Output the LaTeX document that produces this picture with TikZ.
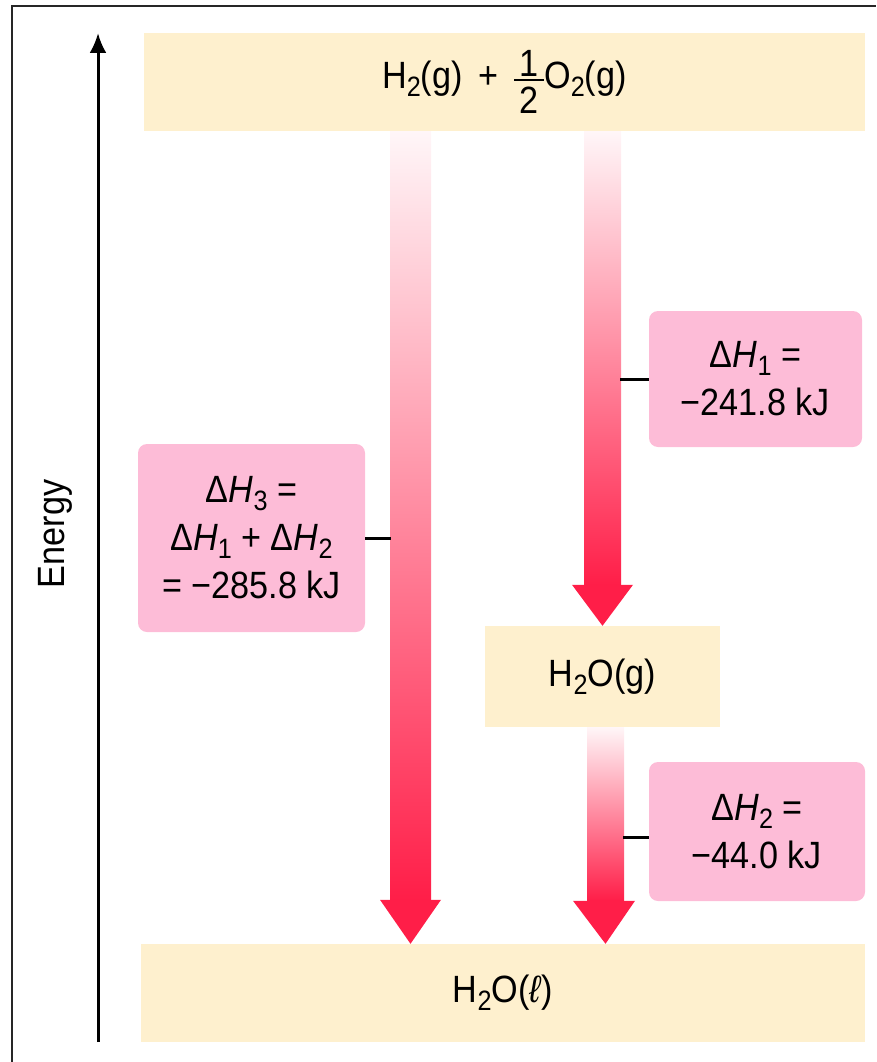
\documentclass[tikz,border=0pt]{standalone}
\usepackage{fontspec}
\setmainfont[FakeStretch=0.9]{Liberation Sans}
\usetikzlibrary{arrows.meta,calc}

\definecolor{levelfill}{RGB}{254,240,206}
\definecolor{notefill}{RGB}{253,188,215}
\definecolor{heatred}{RGB}{255,30,72}
\definecolor{heatpale}{RGB}{255,246,248}

% lowered, slightly reduced subscript
\newcommand\lowsub[1]{\raisebox{-8pt}{\fontsize{28}{28}\selectfont #1}}
% stacked one-half with full-size digits
\newcommand\halffrac{\lower25pt\vbox{\offinterlineskip
  \hbox to 30pt{\hfil 1\hfil}\kern3pt
  \hrule height 2pt width 30pt\kern6pt
  \hbox to 30pt{\hfil 2\hfil}}}

\tikzset{
  level/.style={fill=levelfill, draw=none, inner sep=0pt},
  note/.style={fill=notefill, draw=none, rounded corners=9pt, inner sep=0pt, align=center},
  shaft/.style={top color=heatpale, bottom color=heatred, draw=none},
  tip/.style={fill=heatred, draw=none},
  tick/.style={line width=3pt, black},
  axis/.style={line width=3pt, -{Latex[length=20pt,width=17pt]}},
  frameline/.style={line width=2pt, black!85},
}

\begin{document}
\begin{tikzpicture}[x=1pt, y=-1pt, font=\fontsize{38}{48}\selectfont]
\useasboundingbox (0,0) rectangle (876,1062);

% frame (top and left edges only)
\draw[frameline] (12,1062) -- (12,6) -- (876,6);

% energy levels
\node[level, minimum width=721, minimum height=98] (top) at (504.5,82)
  {H\lowsub{2}(g) \,+\, \halffrac O\lowsub{2}(g)};
\node[level, minimum width=235, minimum height=101] (gas) at (602.5,676.5)
  {H\lowsub{2}O(g)};
\node[level, minimum width=724, minimum height=98] (liq) at (503,993)
  {H\lowsub{2}O(\textit{ℓ})};

% energy axis
\coordinate (e0) at (98,1042);
\coordinate (e1) at (98,33);
\draw[axis] (e0) -- (e1);
\node[rotate=90] (elabel) at (55,534) {Energy};

% arrow centre lines
\coordinate (c3) at (410.5,0);
\coordinate (c1) at (602.5,0);
\coordinate (c2) at (605.5,0);

% overall step: reactants -> liquid water
\shade[shaft] ($(top.south -| c3)+(-20.5,0)$) rectangle ($(liq.north -| c3)+(20.5,-44)$);
\fill[tip] ($(liq.north -| c3)+(-30.5,-44)$) -- ($(liq.north -| c3)+(30.5,-44)$)
  -- (liq.north -| c3) -- cycle;

% first step: reactants -> water vapour
\shade[shaft] ($(top.south -| c1)+(-18.5,0)$) rectangle ($(gas.north -| c1)+(18.5,-41)$);
\fill[tip] ($(gas.north -| c1)+(-30.5,-41)$) -- ($(gas.north -| c1)+(30.5,-41)$)
  -- (gas.north -| c1) -- cycle;

% second step: water vapour -> liquid water
\shade[shaft] ($(gas.south -| c2)+(-18.5,0)$) rectangle ($(liq.north -| c2)+(18.5,-43)$);
\fill[tip] ($(liq.north -| c2)+(-32.5,-43)$) -- ($(liq.north -| c2)+(29.5,-43)$)
  -- (liq.north -| c2) -- cycle;

% enthalpy notes
\node[note, minimum width=213, minimum height=136] (dh1) at (755.5,379)
  {Δ\textit{H}\lowsub{1} =\\−241.8 kJ};
\node[note, minimum width=227, minimum height=188] (dh3) at (251.5,538)
  {Δ\textit{H}\lowsub{3} =\\Δ\textit{H}\lowsub{1} + Δ\textit{H}\lowsub{2}\\= −285.8 kJ};
\node[note, minimum width=216, minimum height=139] (dh2) at (757,831.5)
  {Δ\textit{H}\lowsub{2} =\\−44.0 kJ};

% shaft edges for the note ticks
\coordinate (s1) at (620,0);
\coordinate (s3) at (391,0);
\coordinate (s2) at (623,0);
\draw[tick] (dh1.west) -- (dh1.west -| s1);
\draw[tick] (dh3.east) -- (dh3.east -| s3);
\draw[tick] ([yshift=-5.5pt]dh2.west) -- ([yshift=-5.5pt]dh2.west -| s2);
\end{tikzpicture}
\end{document}
